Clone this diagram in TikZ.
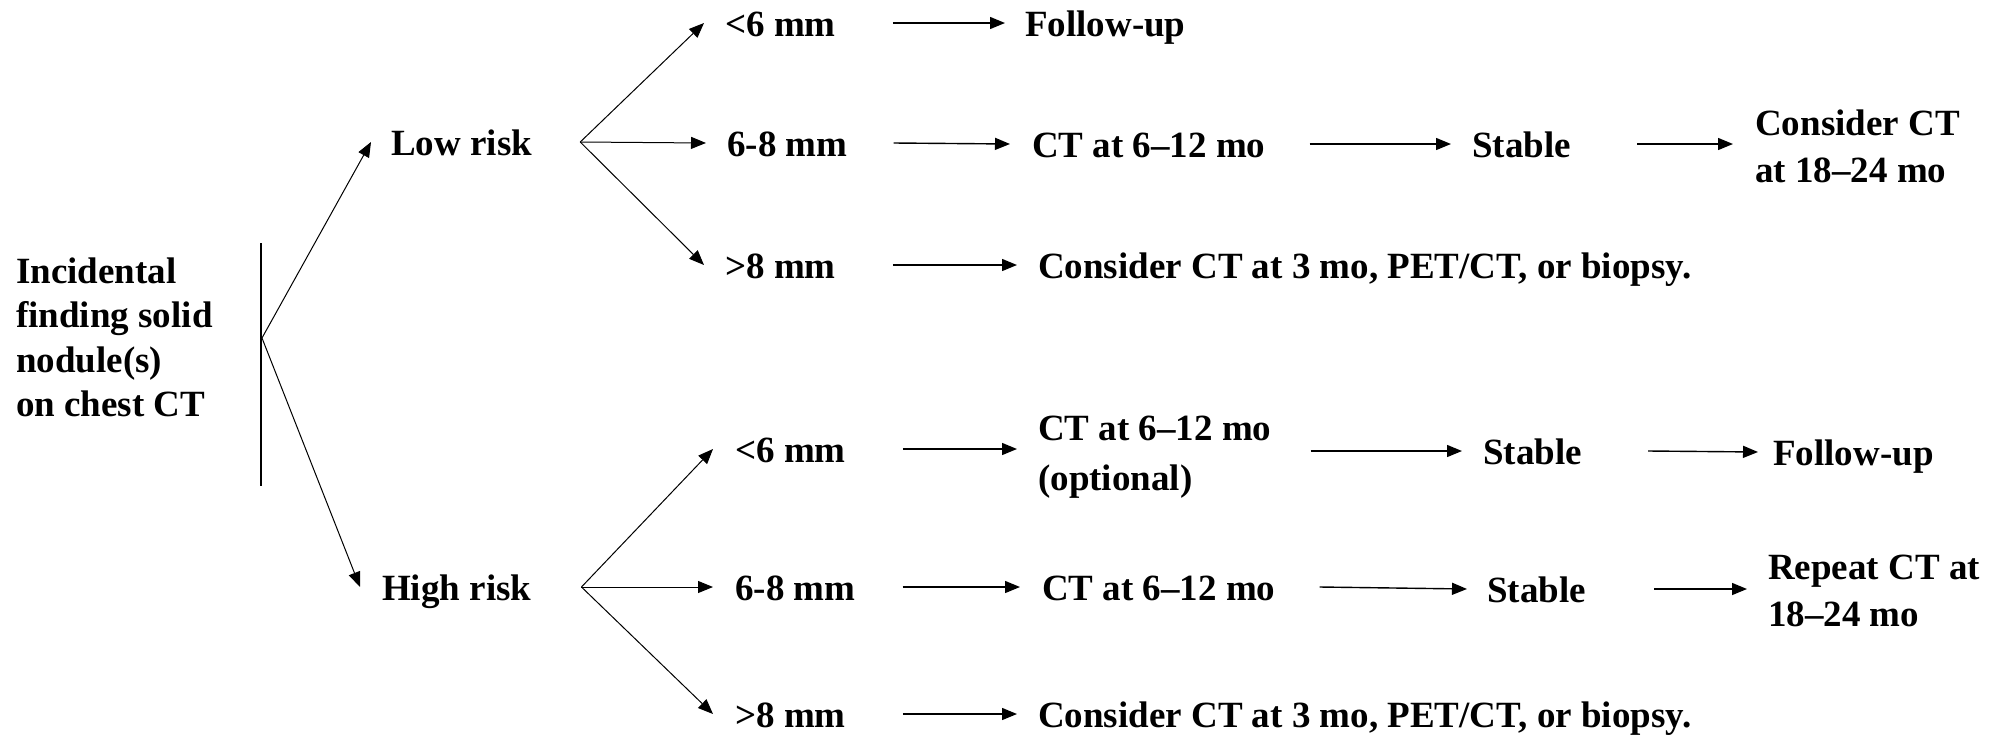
\documentclass[tikz,border=0pt]{standalone}
\usepackage{fontspec}
\setmainfont{Liberation Serif}[BoldFont={Liberation Serif Bold}]
\usetikzlibrary{arrows.meta,calc}
\begin{document}
\begin{tikzpicture}[x=1pt,y=-1pt,
  every node/.style={inner sep=0pt, anchor=base west,
    font=\bfseries\fontsize{37}{47.5}\selectfont},
  lbl/.style={text height=34pt, text depth=8pt},
  arr/.style={line width=1.4pt, -{Triangle[length=15pt,width=12pt]}},
  fan/.style={line width=1pt, -{Triangle[length=15pt,width=12pt]}},
  bar/.style={line width=2.3pt},
]
\useasboundingbox (0,0) rectangle (2006,737);

% starting point
\node[font=\bfseries\fontsize{37}{44.5}\selectfont] (intro) at (16,283)
  {\begin{tabular}[t]{@{}l@{}}Incidental\\finding solid\\nodule(s)\\on chest CT\end{tabular}};
\coordinate (bartop) at (261,243);
\coordinate (barbot) at (261,486);
\coordinate (fork) at (262,338);
\draw[bar] (bartop) -- (barbot);

% risk groups
\node[lbl] (low)  at (391,155) {Low risk};
\node[lbl] (high) at (382,600) {High risk};
\draw[fan] (fork) -- ($(low.west)+(-20,0)$);
\draw[fan] (fork) -- ($(high.west)+(-22,0)$);

% low risk: nodule size
\node[lbl] (l1) at (725,36)  {<6 mm};
\node[lbl] (l2) at (727,156) {6-8 mm};
\node[lbl] (l3) at (725,278) {>8 mm};
\coordinate (lfork) at ($(low.east)+(48,0)$);
\draw[fan] (lfork) -- ($(l1.west)+(-21,0)$);
\draw[fan] (lfork) -- ($(l2.west)+(-21,0)$);
\draw[fan] (lfork) -- ($(l3.west)+(-21,0)$);

% low risk: management
\node[lbl] (lf)  at (1025,36)  {Follow-up};
\node[lbl] (lct) at (1032,157) {CT at 6--12 mo};
\node[lbl] (lst) at (1472,157) {Stable};
\node (lcons) at (1755,135) {\begin{tabular}[t]{@{}l@{}}Consider CT\\at 18--24 mo\end{tabular}};
\node[lbl] (lbx) at (1038,278) {Consider CT at 3 mo, PET/CT, or biopsy.};
\draw[arr] ($(l1.east)+(57,0)$) -- ($(lf.west)+(-20,0)$);
\draw[arr] ($(l2.east)+(46,0)$) -- ($(lct.west)+(-22,0)$);
\draw[arr] ($(lct.east)+(44,0)$) -- ($(lst.west)+(-21,0)$);
\draw[arr] ($(lst.east)+(66,0)$) -- ($(lst.east -| lcons.west)+(-22,0)$);
\draw[arr] ($(l3.east)+(57,0)$) -- ($(lbx.west)+(-21,0)$);

% high risk: nodule size
\node[lbl] (h1) at (735,462) {<6 mm};
\node[lbl] (h2) at (735,600) {6-8 mm};
\node[lbl] (h3) at (735,727) {>8 mm};
\coordinate (hfork) at ($(high.east)+(50,0)$);
\draw[fan] (hfork) -- ($(h1.west)+(-22,0)$);
\draw[fan] (hfork) -- ($(h2.west)+(-22,0)$);
\draw[fan] (hfork) -- ($(h3.west)+(-22,0)$);

% high risk: management
\node (hct1) at (1038,440) {\begin{tabular}[t]{@{}l@{}}CT at 6--12 mo\\[3pt](optional)\end{tabular}};
\node[lbl] (hst1) at (1483,464) {Stable};
\node[lbl] (hf)   at (1773,465) {Follow-up};
\node[lbl] (hct2) at (1042,600) {CT at 6--12 mo};
\node[lbl] (hst2) at (1487,602) {Stable};
\node (hrep) at (1768,579) {\begin{tabular}[t]{@{}l@{}}Repeat CT at\\18--24 mo\end{tabular}};
\node[lbl] (hbx) at (1038,727) {Consider CT at 3 mo, PET/CT, or biopsy.};
\draw[arr] ($(h1.east)+(57,0)$) -- ($(h1.east -| hct1.west)+(-21,0)$);
\draw[arr] ($(hct1.east |- hst1.west)+(39,0)$) -- ($(hst1.west)+(-21,0)$);
\draw[arr] ($(hst1.east)+(66,0)$) -- ($(hf.west)+(-15,0)$);
\draw[arr] ($(h2.east)+(47,0)$) -- ($(hct2.west)+(-22,0)$);
\draw[arr] ($(hct2.east)+(44,0)$) -- ($(hst2.west)+(-20,0)$);
\draw[arr] ($(hst2.east)+(68,0)$) -- ($(hst2.east -| hrep.west)+(-21,0)$);
\draw[arr] ($(h3.east)+(57,0)$) -- ($(hbx.west)+(-21,0)$);
\end{tikzpicture}
\end{document}
